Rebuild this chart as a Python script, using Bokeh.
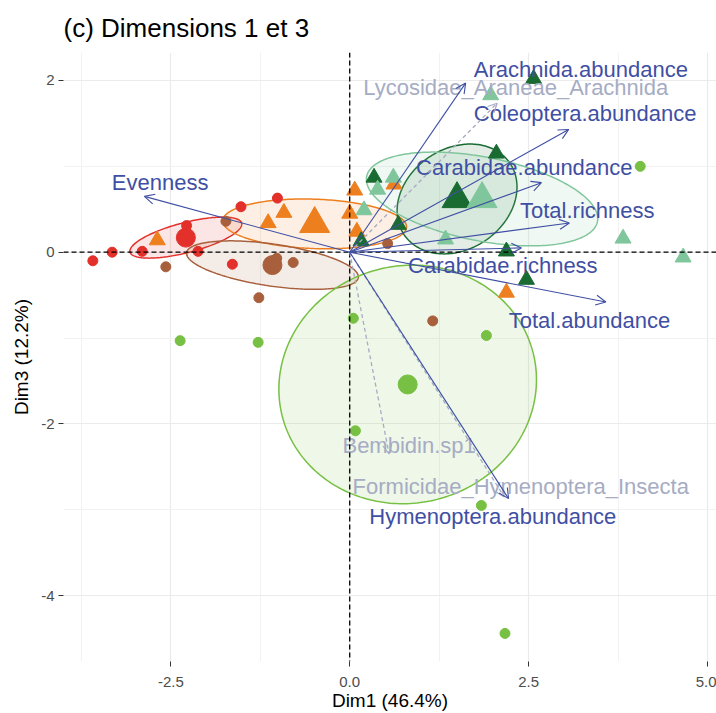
import numpy as np
from bokeh.plotting import figure
from bokeh.models import ColumnDataSource, Arrow, OpenHead, Span, FixedTicker, PrintfTickFormatter
from bokeh.core.properties import value
from bokeh.embed import file_html
from bokeh.resources import INLINE

# ---- individuals (Dim1, Dim3) per group ----
red_x = [-3.59, -3.32, -2.90, -2.28, -2.12, -1.64, -1.52, -1.01]
red_y = [-0.10, 0.00, 0.01, 0.31, 0.01, -0.14, 0.53, 0.63]
brown_x = [-2.57, -1.73, -1.02, -0.79, -1.27, 1.16, 0.53]
brown_y = [-0.17, 0.36, -0.07, -0.12, -0.53, -0.80, 0.10]
lgreen_x = [-2.37, -1.28, 0.05, 1.91, 0.08, 1.84, 2.17, 4.06]
lgreen_y = [-1.03, -1.05, -0.77, -0.97, -2.08, -2.95, -4.44, 1.00]
orange_x = [-2.69, -1.14, -0.92, 0.00, 0.07, 0.10, 0.62, 2.19]
orange_y = [0.14, 0.34, 0.46, 0.45, 0.72, 0.24, 0.79, -0.47]
dgreen_x = [0.34, 2.57, 2.05, 2.19, 2.47, 0.16, 0.68]
dgreen_y = [0.87, 2.02, 1.15, 0.01, -0.32, 0.13, 0.32]
mint_x = [0.61, 0.39, 0.20, 1.34, 1.97, 3.82, 4.66]
mint_y = [0.87, 0.73, 0.49, 0.15, 1.83, 0.16, -0.06]

# group means
group_names = ["red", "orange", "brown", "lgreen", "dgreen", "mint"]
mean_x = [-2.29, -0.49, -1.08, 0.81, 1.50, 1.85]
mean_y = [0.17, 0.33, -0.15, -1.54, 0.62, 0.62]
# confidence ellipse covariance (Dim1, Dim3)
ell_sxx = [0.611, 1.65, 1.442, 3.24, 0.702, 2.614]
ell_syy = [0.0571, 0.084, 0.0796, 1.93, 0.409, 0.298]
ell_sxy = [0.1228, -0.045, -0.164, 0.10, 0.117, -0.369]
group_colors = ["#E3302A", "#EE7F1F", "#A8603C", "#77C043", "#1A6B32", "#80C69C"]
group_markers = ["circle", "triangle", "circle", "circle", "triangle", "triangle"]

# ---- active variables ----
var_names = ["Evenness", "Arachnida.abundance", "Coleoptera.abundance", "Carabidae.abundance",
             "Total.richness", "Carabidae.richness", "Total.abundance", "Hymenoptera.abundance"]
var_x = [-2.87, 1.62, 3.06, 2.68, 3.07, 2.40, 3.58, 2.22]
var_y = [0.65, 1.97, 1.43, 0.81, 0.34, 0.05, -0.58, -2.87]
var_lx = [-2.65, 3.23, 3.29, 2.44, 3.32, 2.14, 3.35, 2.00]
var_ly = [0.81, 2.13, 1.61, 0.99, 0.49, -0.155, -0.79, -3.08]

# ---- supplementary variables ----
sup_names = ["Lycosidae_Araneae_Arachnida", "Formicidae_Hymenoptera_Insecta", "Bembidin.sp1"]
sup_x = [2.06, 2.16, 0.55]
sup_y = [1.735, -2.85, -2.35]
sup_lx = [2.32, 2.39, 0.83]
sup_ly = [1.92, -2.73, -2.25]

x_ticks = [-2.5, 0.0, 2.5, 5.0]
y_ticks = [-4, -2, 0, 2]

groups = {
    "red": (red_x, red_y), "orange": (orange_x, orange_y), "brown": (brown_x, brown_y),
    "lgreen": (lgreen_x, lgreen_y), "dgreen": (dgreen_x, dgreen_y), "mint": (mint_x, mint_y),
}

FONT = "Liberation Sans"
BLUE = "#3F4FA3"
GREY = "#A6ACC3"

p = figure(width=716, height=713, x_range=(-4.0, 5.126), y_range=(-4.767, 2.326),
           output_backend="svg", toolbar_location=None,
           min_border_left=63, min_border_right=0, min_border_top=50, min_border_bottom=10)
p.outline_line_color = None
p.background_fill_color = "white"

p.title.text = "(c) Dimensions 1 et 3"
p.title.text_font = FONT
p.title.text_font_size = "26px"
p.title.text_font_style = "normal"
p.title.text_color = "black"
p.title.align = "left"
p.title.standoff = 20

p.xaxis.ticker = FixedTicker(ticks=x_ticks, minor_ticks=[-3.75, -1.25, 1.25, 3.75])
p.yaxis.ticker = FixedTicker(ticks=y_ticks, minor_ticks=[-3, -1, 1])
p.xaxis.formatter = PrintfTickFormatter(format="%.1f")
p.yaxis.formatter = PrintfTickFormatter(format="%d")
p.xaxis.axis_label = "Dim1 (46.4%)"
p.yaxis.axis_label = "Dim3 (12.2%)"
for ax in (p.xaxis, p.yaxis):
    ax.axis_line_color = None
    ax.major_tick_line_color = "#333333"
    ax.major_tick_out = 5
    ax.major_tick_in = 0
    ax.minor_tick_line_color = None
    ax.major_label_text_font = FONT
    ax.major_label_text_font_size = "15px"
    ax.major_label_text_color = "#4D4D4D"
    ax.axis_label_text_font = FONT
    ax.axis_label_text_font_size = "19px"
    ax.axis_label_text_font_style = "normal"
    ax.axis_label_text_color = "black"
p.xaxis.major_label_standoff = 10
p.xaxis.axis_label_standoff = 0
p.yaxis.major_label_standoff = 4
p.yaxis.axis_label_standoff = 6

for g in (p.xgrid, p.ygrid):
    g.grid_line_color = "#EBEBEB"
    g.grid_line_width = 1.2
    g.minor_grid_line_color = "#F2F2F2"
    g.minor_grid_line_width = 1.0

# ellipses
for i, name in enumerate(group_names):
    cov = np.array([[ell_sxx[i], ell_sxy[i]], [ell_sxy[i], ell_syy[i]]])
    L = np.linalg.cholesky(cov)
    t = np.linspace(0, 2 * np.pi, 240)
    pts = L @ np.vstack([np.cos(t), np.sin(t)])
    p.patch(mean_x[i] + pts[0], mean_y[i] + pts[1], fill_color=group_colors[i], fill_alpha=0.12,
            line_color=group_colors[i], line_width=1.5)

# reference lines
p.add_layout(Span(location=0, dimension="height", line_color="black", line_dash="5 3", line_width=1.3))
p.add_layout(Span(location=0, dimension="width", line_color="black", line_dash="5 3", line_width=1.3))

# individual points
for i, name in enumerate(group_names):
    gx, gy = groups[name]
    small = 10 if group_markers[i] == "circle" else 16
    big = 19 if group_markers[i] == "circle" else 30
    p.scatter(gx, gy, marker=group_markers[i], size=small, fill_color=group_colors[i],
              line_color=group_colors[i])
    p.scatter([mean_x[i]], [mean_y[i]], marker=group_markers[i], size=big,
              fill_color=group_colors[i], line_color=group_colors[i])

# supplementary arrows (dashed)
sup_src = ColumnDataSource(dict(x0=[0.0] * len(sup_x), y0=[0.0] * len(sup_x), x1=sup_x, y1=sup_y))
p.add_layout(Arrow(source=sup_src, x_start="x0", y_start="y0", x_end="x1", y_end="y1",
                   line_color=GREY, line_width=1.3, line_dash="4 3",
                   end=OpenHead(size=9, line_color=GREY, line_width=1.2)))
# active variable arrows
var_src = ColumnDataSource(dict(x0=[0.0] * len(var_x), y0=[0.0] * len(var_x), x1=var_x, y1=var_y))
p.add_layout(Arrow(source=var_src, x_start="x0", y_start="y0", x_end="x1", y_end="y1",
                   line_color=BLUE, line_width=1.1,
                   end=OpenHead(size=10, line_color=BLUE, line_width=1.1)))

p.text(x=sup_lx, y=sup_ly, text=sup_names, text_font=value(FONT), text_font_size="22px",
       text_align="center", text_baseline="middle", text_color=GREY)
p.text(x=var_lx, y=var_ly, text=var_names, text_font=value(FONT), text_font_size="22px",
       text_align="center", text_baseline="middle", text_color=BLUE)

open("out.html", "w").write(file_html(p, INLINE))
